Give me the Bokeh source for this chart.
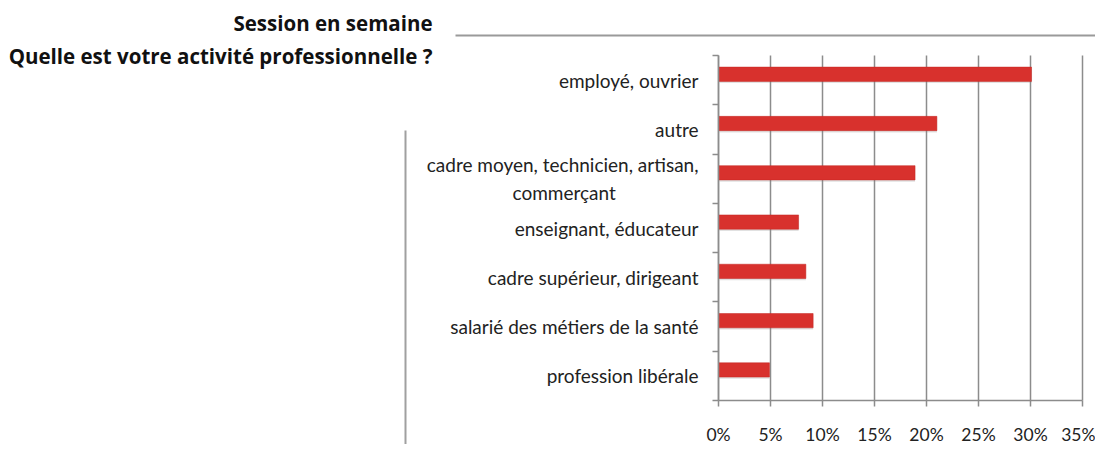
from bokeh.plotting import figure
from bokeh.models import Range1d, FixedTicker, Label, PrintfTickFormatter, ColumnDataSource
from bokeh.embed import file_html
from bokeh.resources import INLINE

# Data (top to bottom)
categories = [
    "employé, ouvrier",
    "autre",
    "cadre moyen, technicien, artisan,\ncommerçant" + "\u00a0" * 17,
    "enseignant, éducateur",
    "cadre supérieur, dirigeant",
    "salarié des métiers de la santé",
    "profession libérale",
]
values = [30.1, 21.0, 18.9, 7.7, 8.4, 9.1, 4.9]
x_ticks = [0, 5, 10, 15, 20, 25, 30, 35]
title_1 = "Session en semaine"
title_2 = "Quelle est votre activité professionnelle ?"

n = len(categories)
centers = [n - i - 0.5 for i in range(n)]
bar_y = [c + 0.12 for c in centers]

GRAY = "#8c8c8c"
TXT = "#222222"
W, H = 1095, 444
X0, Y0 = 718, 400          # screen position of the chart origin
xu = 364 / 35.0            # px per percent
yu = 345 / float(n)        # px per category band

def dx(sx):
    return (sx - X0) / xu

def dy(sy):
    return (Y0 - sy) / yu

p = figure(width=W, height=H, output_backend="svg", toolbar_location=None,
           x_range=Range1d(dx(0), dx(W)), y_range=Range1d(dy(H), dy(0)),
           min_border=0)
p.outline_line_color = None
p.background_fill_color = "white"
p.xgrid.grid_line_color = None
p.ygrid.grid_line_color = None

# vertical grid lines between the axis and the top of the chart
p.segment(x0=x_ticks, y0=[0] * len(x_ticks), x1=x_ticks, y1=[n] * len(x_ticks),
          line_color=GRAY, line_width=1.5)

src = ColumnDataSource(dict(y=bar_y, right=values, ys=[b - 0.035 for b in bar_y]))
p.hbar(y="ys", left=0.1, right="right", height=0.29, source=src,
       fill_color="#888888", fill_alpha=0.25, line_color=None)
p.hbar(y="y", left=0, right="right", height=0.29, source=src,
       fill_color="#d8312d", line_color="#c42622", line_width=0.5)

# x axis (fixed at y=0)
p.xaxis.fixed_location = 0
p.xaxis.bounds = (0, 35)
p.xaxis.ticker = FixedTicker(ticks=x_ticks)
p.xaxis.formatter = PrintfTickFormatter(format="%d%%")
p.xaxis.axis_line_color = GRAY
p.xaxis.axis_line_width = 1.5
p.xaxis.major_tick_line_color = GRAY
p.xaxis.major_tick_line_width = 1.5
p.xaxis.major_tick_out = 6
p.xaxis.major_tick_in = 0
p.xaxis.minor_tick_line_color = None
p.xaxis.major_label_standoff = 17
p.xaxis.major_label_text_font = "Lato"
p.xaxis.major_label_text_font_size = "17.5px"
p.xaxis.major_label_text_color = TXT

# y axis (fixed at x=0)
p.yaxis.fixed_location = 0
p.yaxis.bounds = (0, n)
p.yaxis.ticker = FixedTicker(ticks=centers, minor_ticks=list(range(n + 1)))
p.yaxis.major_label_overrides = {c: lab for c, lab in zip(centers, categories)}
p.yaxis.axis_line_color = GRAY
p.yaxis.axis_line_width = 1.5
p.yaxis.major_tick_line_color = None
p.yaxis.major_tick_out = 0
p.yaxis.major_tick_in = 0
p.yaxis.minor_tick_line_color = GRAY
p.yaxis.minor_tick_line_width = 1.5
p.yaxis.minor_tick_out = 6
p.yaxis.minor_tick_in = 0
p.yaxis.major_label_standoff = 14
p.yaxis.major_label_text_font = "Lato"
p.yaxis.major_label_text_font_size = "19px"
p.yaxis.major_label_text_color = TXT

# titles and decorative lines
p.add_layout(Label(x=dx(432), y=dy(22), text=title_1, text_align="right", text_baseline="middle",
                   text_font="Open Sans", text_font_style="bold", text_font_size="20.5px", text_color="#111111"))
p.add_layout(Label(x=dx(432), y=dy(55), text=title_2, text_align="right", text_baseline="middle",
                   text_font="Open Sans", text_font_style="bold", text_font_size="20.5px", text_color="#111111"))
p.line([dx(455), dx(W)], [dy(35), dy(35)], line_color="#9a9a9a", line_width=2)
p.line([dx(405), dx(405)], [dy(130), dy(H)], line_color="#a0a0a0", line_width=2)

open("out.html", "w").write(file_html(p, INLINE))
